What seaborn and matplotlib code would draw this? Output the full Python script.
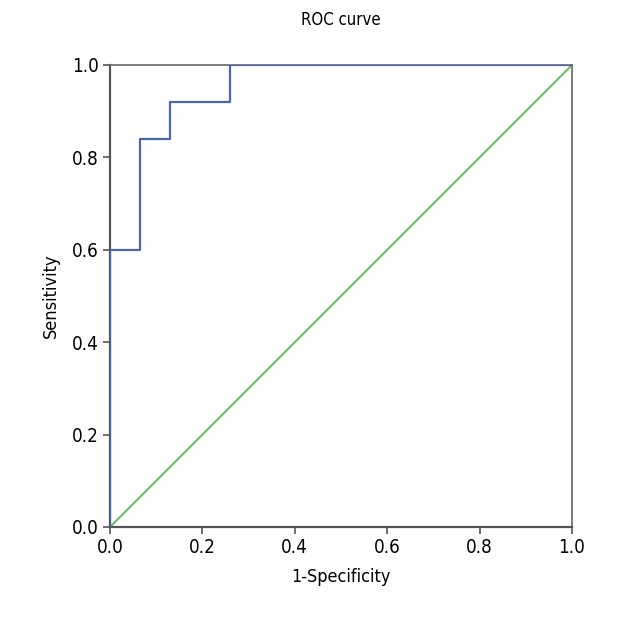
import matplotlib
matplotlib.use("Agg")
import matplotlib.pyplot as plt
import seaborn as sns
import pandas as pd

fpr = [0.0, 0.0, 0.065, 0.065, 0.13, 0.13, 0.26, 0.26, 1.0]
tpr = [0.0, 0.6, 0.6, 0.84, 0.84, 0.92, 0.92, 1.0, 1.0]
ref_x = [0.0, 1.0]
ref_y = [0.0, 1.0]
ticks = [0.0, 0.2, 0.4, 0.6, 0.8, 1.0]
tick_labels = ["0.0", "0.2", "0.4", "0.6", "0.8", "1.0"]

sns.set_theme(style="white")
plt.rcParams['font.family'] = ['DejaVu Sans']
plt.rcParams['font.stretch'] = 'condensed'
plt.rcParams['text.color'] = 'black'
plt.rcParams['axes.labelcolor'] = 'black'

fig = plt.figure(figsize=(6.2, 6.2), dpi=100)
ax = fig.add_axes([110/620, 1-527/620, 462/620, 462/620])

roc = pd.DataFrame({"x": fpr, "y": tpr})
ref = pd.DataFrame({"x": ref_x, "y": ref_y})
sns.lineplot(data=ref, x="x", y="y", sort=False, estimator=None, color="#6cbd6c", linewidth=1.5, ax=ax)
sns.lineplot(data=roc, x="x", y="y", sort=False, estimator=None, color="#4a67b3", linewidth=1.6, ax=ax, zorder=5)

ax.set_xlim(0, 1)
ax.set_ylim(0, 1)
ax.set_xticks(ticks)
ax.set_xticklabels(tick_labels)
ax.set_yticks(ticks)
ax.set_yticklabels(tick_labels)
ax.tick_params(axis="both", direction="out", length=5, width=1.2, color="#555555", labelsize=13.5, pad=3, labelcolor="black")
ax.tick_params(bottom=True, left=True)
for s in ax.spines.values():
    s.set_color("#666666")
    s.set_linewidth(1.2)
for s in ["left", "bottom"]:
    ax.spines[s].set_color("#555555")
    ax.spines[s].set_linewidth(1.6)

ax.set_xlabel("1-Specificity", fontsize=13, labelpad=8)
ax.set_ylabel("Sensitivity", fontsize=13, labelpad=9)
ax.set_title("ROC curve", fontsize=12, pad=29)

fig.savefig("out.png", dpi=100)
